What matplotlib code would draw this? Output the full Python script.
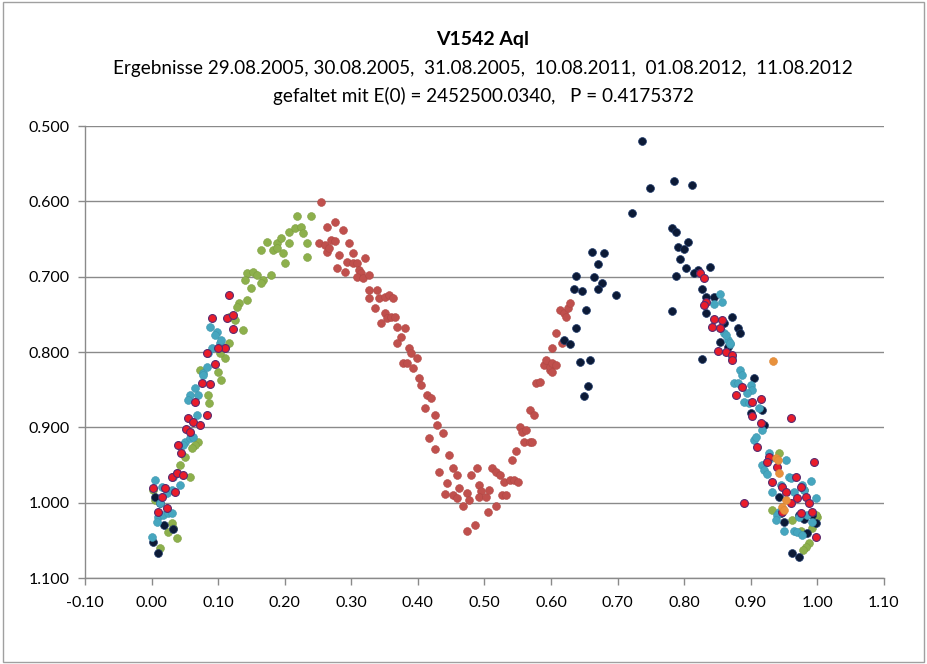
import matplotlib
matplotlib.use("Agg")
import matplotlib.pyplot as plt
from matplotlib.patches import Rectangle
from matplotlib.ticker import MultipleLocator, FormatStrFormatter

plt.rcParams['font.family'] = ['Lato', 'DejaVu Sans']

# Phase / Helligkeit je Beobachtungsnacht
green_x = [0.219, 0.240, 0.207, 0.215, 0.225, 0.227, 0.173, 0.188, 0.195, 0.207,
           0.165, 0.182, 0.189, 0.197, 0.200, 0.233, 0.234, 0.143, 0.152, 0.158,
           0.140, 0.167, 0.180, 0.150, 0.165, 0.132, 0.144, 0.129, 0.117, 0.125,
           0.137, 0.117, 0.110, 0.102, 0.099, 0.072, 0.105, 0.084, 0.086, 0.069,
           0.065, 0.060, 0.050, 0.042, 0.057, 0.002, 0.005, 0.030, 0.032, 0.024,
           0.038, 0.012, 0.943, 0.980, 0.932, 0.962, 1.000, 0.992, 0.976, 0.988,
           0.983, 0.978, 0.998]
green_y = [0.620, 0.620, 0.641, 0.635, 0.634, 0.642, 0.654, 0.655, 0.649, 0.655,
           0.665, 0.665, 0.662, 0.669, 0.682, 0.655, 0.674, 0.695, 0.694, 0.698,
           0.705, 0.705, 0.698, 0.715, 0.708, 0.735, 0.731, 0.740, 0.754, 0.758,
           0.771, 0.788, 0.808, 0.801, 0.827, 0.824, 0.837, 0.857, 0.868, 0.920,
           0.924, 0.928, 0.940, 0.950, 0.966, 0.983, 0.997, 1.027, 1.033, 1.039,
           1.047, 1.060, 0.934, 0.983, 1.010, 1.023, 1.019, 1.033, 1.037, 1.054,
           1.059, 1.063, 1.017]

brown_x = [0.255, 0.264, 0.276, 0.287, 0.252, 0.260, 0.263, 0.270, 0.275, 0.267,
           0.297, 0.282, 0.302, 0.294, 0.302, 0.309, 0.320, 0.279, 0.290, 0.312,
           0.315, 0.308, 0.317, 0.326, 0.327, 0.338, 0.327, 0.342, 0.350, 0.357,
           0.362, 0.335, 0.350, 0.354, 0.360, 0.365, 0.345, 0.369, 0.380, 0.375,
           0.368, 0.386, 0.390, 0.399, 0.377, 0.384, 0.392, 0.402, 0.405, 0.413,
           0.420, 0.410, 0.425, 0.429, 0.437, 0.417, 0.425, 0.447, 0.432, 0.452,
           0.458, 0.444, 0.440, 0.452, 0.462, 0.459, 0.473, 0.477, 0.467, 0.480,
           0.488, 0.492, 0.495, 0.492, 0.503, 0.507, 0.473, 0.485, 0.506, 0.518,
           0.512, 0.518, 0.523, 0.530, 0.538, 0.545, 0.550, 0.527, 0.533, 0.542,
           0.547, 0.560, 0.568, 0.572, 0.553, 0.556, 0.563, 0.568, 0.575, 0.578,
           0.583, 0.598, 0.590, 0.593, 0.598, 0.602, 0.601, 0.608, 0.602, 0.616,
           0.608, 0.613, 0.620, 0.625, 0.628, 0.623]
brown_y = [0.601, 0.634, 0.627, 0.638, 0.655, 0.658, 0.667, 0.651, 0.653, 0.662,
           0.655, 0.671, 0.669, 0.681, 0.682, 0.682, 0.675, 0.689, 0.694, 0.691,
           0.695, 0.701, 0.702, 0.698, 0.718, 0.718, 0.728, 0.728, 0.727, 0.724,
           0.728, 0.742, 0.748, 0.755, 0.754, 0.754, 0.762, 0.767, 0.768, 0.780,
           0.788, 0.795, 0.801, 0.808, 0.815, 0.815, 0.821, 0.835, 0.844, 0.857,
           0.861, 0.874, 0.884, 0.897, 0.908, 0.914, 0.929, 0.937, 0.959, 0.954,
           0.963, 0.974, 0.989, 0.990, 0.981, 0.994, 0.987, 0.997, 1.005, 0.963,
           0.954, 0.977, 0.985, 0.993, 0.993, 0.983, 1.037, 1.030, 1.013, 1.005,
           0.954, 0.959, 0.963, 0.973, 0.970, 0.970, 0.973, 0.990, 0.990, 0.944,
           0.932, 0.920, 0.920, 0.920, 0.900, 0.906, 0.904, 0.877, 0.884, 0.841,
           0.840, 0.824, 0.817, 0.811, 0.820, 0.815, 0.827, 0.817, 0.795, 0.788,
           0.775, 0.744, 0.748, 0.742, 0.735, 0.754]

navy_x = [0.736, 0.749, 0.785, 0.812, 0.722, 0.781, 0.787, 0.805, 0.791, 0.799,
          0.794, 0.802, 0.788, 0.839, 0.821, 0.815, 0.827, 0.833, 0.845, 0.782,
          0.832, 0.826, 0.860, 0.872, 0.880, 0.853, 0.865, 0.662, 0.679, 0.671,
          0.638, 0.664, 0.676, 0.634, 0.646, 0.670, 0.697, 0.652, 0.637, 0.620,
          0.629, 0.643, 0.659, 0.656, 0.649, 0.005, 0.012, 0.018, 0.032, 0.002,
          0.009, 0.920, 0.950, 0.973, 0.980, 0.985, 0.962, 0.973, 0.992, 0.943,
          0.883, 0.905, 0.901, 0.917, 0.998, 0.946]
navy_y = [0.520, 0.582, 0.573, 0.578, 0.616, 0.635, 0.641, 0.654, 0.661, 0.663,
          0.677, 0.689, 0.699, 0.687, 0.691, 0.695, 0.716, 0.727, 0.727, 0.746,
          0.748, 0.809, 0.762, 0.754, 0.768, 0.787, 0.793, 0.667, 0.669, 0.683,
          0.699, 0.701, 0.708, 0.716, 0.719, 0.716, 0.724, 0.744, 0.768, 0.784,
          0.790, 0.813, 0.811, 0.845, 0.859, 0.993, 1.001, 1.030, 1.035, 1.052,
          1.067, 0.897, 1.026, 1.017, 1.022, 1.040, 1.067, 1.072, 1.017, 0.993,
          0.775, 0.835, 0.881, 0.877, 1.027, 1.014]

teal_x = [0.087, 0.098, 0.095, 0.102, 0.105, 0.090, 0.084, 0.077, 0.083, 0.077,
          0.065, 0.057, 0.069, 0.054, 0.068, 0.050, 0.057, 0.062, 0.047, 0.038,
          0.032, 0.042, 0.005, 0.015, 0.023, 0.030, 0.009, 0.017, 0.024, 0.030,
          0.008, 0.000, 0.012,
          0.854, 0.856, 0.845, 0.860, 0.865, 0.868, 0.871, 0.875, 0.863, 0.868,
          0.883, 0.886, 0.880, 0.901, 0.902, 0.895, 0.890, 0.898, 0.913, 0.917,
          0.905, 0.908, 0.928, 0.931, 0.917, 0.920, 0.925, 0.953, 0.958, 0.961,
          0.946, 0.932, 0.977, 0.991, 0.980, 0.965, 0.998, 0.943, 0.940, 0.938,
          0.950, 0.965, 0.970, 0.977, 0.992, 0.985, 0.973]
teal_y = [0.767, 0.774, 0.778, 0.788, 0.784, 0.795, 0.801, 0.828, 0.820, 0.831,
          0.848, 0.857, 0.857, 0.864, 0.884, 0.920, 0.914, 0.913, 0.924, 0.961,
          0.966, 0.977, 0.970, 0.979, 0.987, 0.983, 1.019, 1.017, 1.014, 1.014,
          1.026, 1.046, 1.001,
          0.723, 0.734, 0.736, 0.775, 0.784, 0.790, 0.807, 0.841, 0.778, 0.788,
          0.824, 0.831, 0.841, 0.844, 0.851, 0.855, 0.867, 0.868, 0.874, 0.904,
          0.917, 0.913, 0.934, 0.941, 0.950, 0.957, 0.962, 0.944, 0.966, 0.967,
          0.977, 0.986, 0.977, 0.971, 0.983, 0.986, 0.994, 1.013, 1.017, 1.023,
          1.037, 1.037, 1.039, 1.043, 1.026, 1.017, 1.019]

red_x = [0.116, 0.090, 0.114, 0.123, 0.122, 0.110, 0.099, 0.083, 0.095, 0.075,
         0.087, 0.065, 0.083, 0.054, 0.062, 0.072, 0.051, 0.057, 0.039, 0.044,
         0.030, 0.038, 0.047, 0.002, 0.020, 0.015, 0.035, 0.023, 0.009,
         0.823, 0.829, 0.833, 0.830, 0.845, 0.857, 0.841, 0.853, 0.850, 0.863,
         0.877, 0.872, 0.871, 0.887, 0.902, 0.916, 0.902, 0.916, 0.961, 0.910,
         0.928, 0.925, 0.940, 0.932, 0.947, 0.968, 0.976, 0.995, 0.890, 0.953,
         0.970, 0.983, 0.961, 0.988, 0.947, 0.976, 0.992, 0.998]
red_y = [0.724, 0.755, 0.755, 0.751, 0.770, 0.795, 0.795, 0.801, 0.816, 0.841,
         0.843, 0.867, 0.884, 0.888, 0.893, 0.897, 0.902, 0.906, 0.924, 0.934,
         0.966, 0.961, 0.963, 0.981, 0.981, 0.993, 0.986, 1.007, 1.013,
         0.695, 0.702, 0.734, 0.738, 0.756, 0.758, 0.767, 0.768, 0.799, 0.800,
         0.857, 0.804, 0.811, 0.847, 0.867, 0.863, 0.885, 0.894, 0.888, 0.926,
         0.940, 0.946, 0.953, 0.973, 0.979, 0.966, 0.979, 0.946, 1.001, 0.986,
         0.994, 0.993, 1.001, 1.001, 1.013, 1.014, 1.013, 1.046]

orange_x = [0.934, 0.938, 0.941, 0.943, 0.953, 0.947, 0.950]
orange_y = [0.812, 0.941, 0.944, 0.961, 0.997, 1.006, 1.010]

title = 'V1542 Aql'
subtitle1 = 'Ergebnisse 29.08.2005, 30.08.2005,  31.08.2005,  10.08.2011,  01.08.2012,  11.08.2012'
subtitle2 = 'gefaltet mit E(0) = 2452500.0340,   P = 0.4175372'

fig = plt.figure(figsize=(9.27, 6.64), dpi=100)
ax = fig.add_axes([0.0917, 0.1295, 0.8619, 0.6807])

# Rahmen ums ganze Bild wie in Excel
fig.patches.append(Rectangle((0.003, 0.003), 0.994, 0.994, transform=fig.transFigure,
                             fill=False, edgecolor='#a0a0a0', linewidth=1.0))

ms = 32
ax.scatter(brown_x, brown_y, s=ms, color='#c0504d', edgecolors='#b04845', linewidths=0.4, zorder=3)
ax.scatter(green_x, green_y, s=ms, color='#8db04c', edgecolors='#7d9f40', linewidths=0.4, zorder=3)
ax.scatter(navy_x, navy_y, s=ms, color='#0c1a36', edgecolors='#1f3a6a', linewidths=0.5, zorder=3)
ax.scatter(teal_x, teal_y, s=ms, color='#46a6bf', edgecolors='#3b95ae', linewidths=0.4, zorder=4)
ax.scatter(red_x, red_y, s=ms, color='#ea1c2a', edgecolors='#5a2a6e', linewidths=0.8, zorder=5)
ax.scatter(orange_x, orange_y, s=ms, color='#e8913c', edgecolors='#dd8535', linewidths=0.4, zorder=6)

ax.set_xlim(-0.10, 1.10)
ax.set_ylim(1.100, 0.500)
ax.xaxis.set_major_locator(MultipleLocator(0.10))
ax.yaxis.set_major_locator(MultipleLocator(0.100))
ax.xaxis.set_major_formatter(FormatStrFormatter('%.2f'))
ax.yaxis.set_major_formatter(FormatStrFormatter('%.3f'))
ax.grid(axis='y', color='#8a8a8a', linewidth=1.0)
ax.set_axisbelow(True)

for side in ['top', 'right']:
    ax.spines[side].set_visible(False)
for side in ['left', 'bottom']:
    ax.spines[side].set_color('#8a8a8a')
    ax.spines[side].set_linewidth(1.0)
ax.tick_params(axis='both', colors='#8a8a8a', labelcolor='black', labelsize=11.5,
               length=5, width=1.0, direction='out')
ax.tick_params(axis='x', pad=8)
ax.tick_params(axis='y', pad=6)

fig.text(0.521, 0.940, title, ha='center', va='center', fontsize=14, fontweight='bold')
fig.text(0.521, 0.897, subtitle1, ha='center', va='center', fontsize=13.6)
fig.text(0.521, 0.856, subtitle2, ha='center', va='center', fontsize=13.6)

fig.savefig('out.png', dpi=100)
